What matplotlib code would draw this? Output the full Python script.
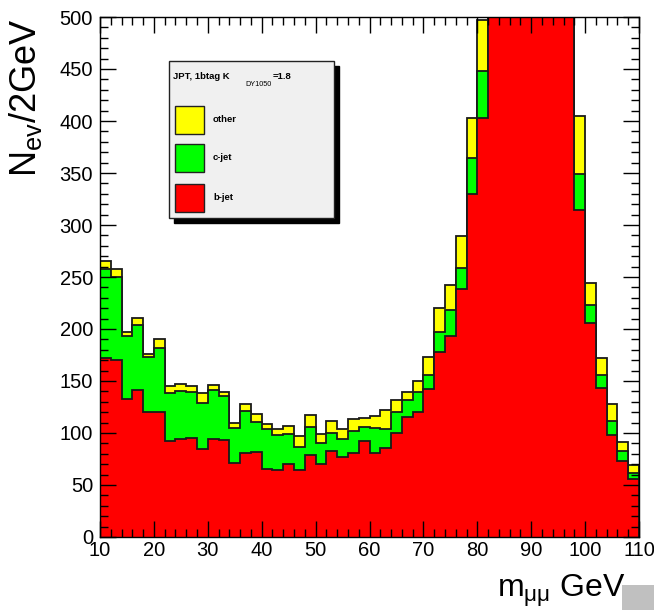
import numpy as np
import matplotlib
matplotlib.use("Agg")
import matplotlib.pyplot as plt
from matplotlib.patches import Rectangle

plt.rcParams['font.family'] = ['Liberation Sans', 'DejaVu Sans']
plt.rcParams['mathtext.default'] = 'regular'

# bin edges: 10..110 GeV in 2 GeV steps
edges = np.arange(10, 112, 2)

# per-bin contents (peak bins 82-98 GeV go off scale)
b_jet = [172, 170, 133, 141, 120, 120, 92, 94, 95, 85,
         94, 93, 71, 81, 82, 65, 64, 70, 64, 79,
         70, 83, 77, 81, 92, 81, 86, 100, 115, 120,
         142, 178, 193, 238, 330, 403, 620, 900, 1250, 1500,
         1450, 1150, 850, 560, 314, 206, 143, 98, 73, 56]
c_jet = [86, 80, 60, 63, 53, 62, 46, 46, 44, 44,
         47, 43, 34, 40, 29, 39, 34, 29, 23, 27,
         20, 17, 17, 21, 14, 24, 18, 20, 17, 19,
         14, 19, 25, 21, 34, 45, 50, 60, 70, 80,
         75, 65, 55, 45, 35, 17, 13, 14, 10, 6]
other = [7, 8, 4, 7, 3, 8, 7, 7, 6, 9,
         5, 3, 5, 7, 7, 5, 6, 8, 10, 11,
         9, 12, 10, 11, 8, 11, 18, 12, 7, 11,
         17, 23, 24, 30, 39, 49, 60, 70, 80, 90,
         85, 75, 65, 55, 56, 21, 16, 16, 8, 7]

y_ticks = np.arange(0, 501, 50)
x_ticks = np.arange(10, 111, 10)

b = np.array(b_jet, dtype=float)
bc = b + np.array(c_jet)
tot = bc + np.array(other)

fig = plt.figure(figsize=(6.54, 6.10), dpi=100)
ax = fig.add_axes([100/654, 73/610, 539/654, 520/610])

for vals, col in [(tot, '#ffff00'), (bc, '#00ff00'), (b, '#ff0000')]:
    ax.stairs(vals, edges, baseline=0, fill=True, facecolor=col,
              edgecolor='#1a1a1a', linewidth=1.3)

ax.set_xlim(10, 110)
ax.set_ylim(0, 500)
ax.set_xticks(x_ticks)
ax.set_yticks(y_ticks)
ax.set_xticks(np.arange(10, 111, 2), minor=True)
ax.set_yticks(np.arange(0, 501, 10), minor=True)
ax.tick_params(which='both', direction='in', top=True, right=True,
               labelsize=14.5, width=1)
ax.tick_params(which='major', length=11.5)
ax.tick_params(which='minor', length=5.5)
ax.tick_params(axis='y', pad=5)
ax.tick_params(axis='x', pad=3)
for s in ax.spines.values():
    s.set_linewidth(1)

# axis titles
fig.text(26/654, 1 - 98/610, r'N$_{ev}$/2GeV', rotation=90,
         ha='center', va='center', fontsize=26)
fig.text(497/654, 13/610, r'm$_{\mu\mu}$ GeV', ha='left', va='baseline',
         fontsize=23)

# legend box with shadow (pixel coords -> figure fraction)
def fx(px):
    return px / 654

def fy(py):
    return 1 - py / 610

L, T, R, B = 169, 61, 334, 218
fig.add_artist(Rectangle((fx(L + 5), fy(B + 5)), fx(R - L), (B - T) / 610,
                         transform=fig.transFigure, facecolor='black',
                         edgecolor='black'))
fig.add_artist(Rectangle((fx(L), fy(B)), fx(R - L), (B - T) / 610,
                         transform=fig.transFigure, facecolor='#f0f0f0',
                         edgecolor='#222222', linewidth=1))

fig.text(fx(173), fy(79), 'JPT, 1btag K', fontsize=6.8, fontweight='bold',
         va='baseline')
fig.text(fx(245), fy(86), 'DY1050', fontsize=5.2, va='baseline')
fig.text(fx(273), fy(79), '=1.8', fontsize=6.8, fontweight='bold',
         va='baseline')

for (top, col, lab) in [(106, '#ffff00', 'other'), (144, '#00ff00', 'c-jet'),
                        (184, '#ff0000', 'b-jet')]:
    fig.add_artist(Rectangle((fx(175), fy(top + 28)), fx(29), 28 / 610,
                             transform=fig.transFigure, facecolor=col,
                             edgecolor='#222222', linewidth=1))
    fig.text(fx(213), fy(top + 14), lab, fontsize=6.8, fontweight='bold',
             va='center')

# grey corner block seen in the original
fig.add_artist(Rectangle((fx(622), 0), fx(32), 25 / 610,
                         transform=fig.transFigure, facecolor='#c0c0c0',
                         edgecolor='none'))

fig.savefig('out.png', dpi=100)
